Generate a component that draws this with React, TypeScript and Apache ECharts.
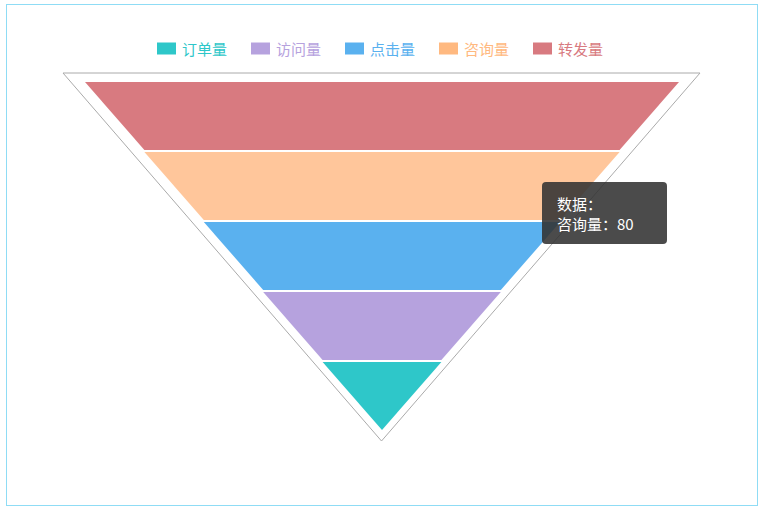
import React, { useEffect, useRef } from "react";
import * as echarts from "echarts";

const categories = ["订单量", "访问量", "点击量", "咨询量", "转发量"];
const values = [20, 40, 60, 80, 100];
const colors = ["#2ec7c9", "#b6a2de", "#5ab1ef", "#ffb980", "#d87a80"];
const hoveredName = "咨询量";
const hoveredColor = "#ffc69b";
const seriesName = "数据";
const outlineValue = [100];

export default function App() {
  const ref = useRef<HTMLDivElement>(null);
  useEffect(() => {
    if (!ref.current) return;
    const chart = echarts.init(ref.current, undefined, { renderer: "svg" });
    const hoveredIdx = categories.indexOf(hoveredName);
    const tipText = `${seriesName}：\n${hoveredName}：${values[hoveredIdx]}`;
    chart.setOption({
      animation: false,
      textStyle: { fontFamily: "'Noto Sans CJK SC', 'Noto Sans', sans-serif" },
      legend: {
        top: 36,
        left: 150,
        padding: 0,
        icon: "rect",
        itemWidth: 19,
        itemHeight: 12,
        itemGap: 24,
        textStyle: { fontSize: 15, padding: [0, 0, 0, 1] },
        data: categories.map((n, i) => ({
          name: n,
          itemStyle: { color: colors[i] },
          textStyle: { color: colors[i] },
        })),
      },
      series: [
        {
          type: "funnel",
          name: "outline",
          silent: true,
          left: 56,
          top: 68,
          width: 637,
          height: 368,
          min: 0,
          max: 100,
          minSize: "0%",
          maxSize: "100%",
          label: { show: false },
          labelLine: { show: false },
          itemStyle: { color: "#ffffff", borderColor: "#aaaaaa", borderWidth: 1 },
          emphasis: { disabled: true },
          data: outlineValue.map((v) => ({ name: "", value: v })),
        },
        {
          type: "funnel",
          name: seriesName,
          left: 78,
          top: 77,
          width: 594,
          height: 348,
          min: 0,
          max: 100,
          minSize: "0%",
          maxSize: "100%",
          gap: 2,
          sort: "descending",
          label: { show: false },
          labelLine: { show: false },
          itemStyle: { borderWidth: 0 },
          emphasis: { disabled: true },
          data: categories.map((n, i) => ({
            name: n,
            value: values[i],
            itemStyle: { color: n === hoveredName ? hoveredColor : colors[i] },
          })),
        },
      ],
      graphic: [
        {
          type: "group",
          left: 535,
          top: 177,
          z: 100,
          children: [
            {
              type: "rect",
              z: 100,
              shape: { x: 0, y: 0, width: 125, height: 62, r: 4 },
              style: { fill: "rgba(50,50,50,0.88)" },
            },
            {
              type: "text",
              z: 101,
              x: 15,
              y: 11,
              style: {
                text: tipText,
                fill: "#ffffff",
                fontSize: 15,
                lineHeight: 20,
                fontFamily: "'Noto Sans CJK SC', sans-serif",
              },
            },
          ],
        },
      ],
    });
    return () => chart.dispose();
  }, []);
  return (
    <div
      style={{
        position: "absolute",
        left: 6,
        top: 4,
        width: 750,
        height: 500,
        border: "1px solid #8fdcf5",
        background: "#fff",
      }}
    >
      <div ref={ref} style={{ width: 750, height: 500 }} />
    </div>
  );
}
